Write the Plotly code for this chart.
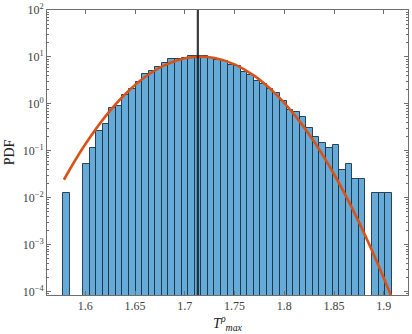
import numpy as np
import plotly.graph_objects as go

# ---------------- data ----------------
bin_start = 1.5779          # left edge of first histogram bin
bin_width = 0.0066          # histogram bin width
pdf_values = [
    0.0125, None, None, 0.051, 0.114, 0.258, 0.371, 0.813, 0.881, 1.56,
    2.10, 2.92, 4.32, 5.08, 6.09, 7.41, 9.02, 9.02, 9.71, 10.25,
    10.45, 10.25, 9.49, 8.72, 8.02, 6.82, 6.26, 4.68, 4.04, 3.11,
    2.69, 2.07, 1.70, 1.12, 0.723, 0.668, 0.523, 0.305, 0.192, 0.146,
    0.114, 0.130, 0.038, 0.052, 0.0253, 0.0253, None, 0.0127, 0.0127, 0.0127,
]

# fitted normal curve
curve_x = [1.5785, 1.59, 1.60, 1.62, 1.64, 1.66, 1.68, 1.70, 1.715, 1.73,
           1.75, 1.77, 1.79, 1.81, 1.83, 1.85, 1.87, 1.89, 1.905, 1.9082]
curve_pdf = [0.0240, 0.0634, 0.1375, 0.533, 1.602, 3.724, 6.697, 9.324, 10.10, 9.468,
             6.941, 3.940, 1.730, 0.588, 0.1546, 0.03147, 0.004957, 0.000604, 0.0001053, 0.0000712]

mean_T = 1.7131

x_tick_vals = [1.6, 1.65, 1.7, 1.75, 1.8, 1.85, 1.9]
x_tick_text = ["1.6", "1.65", "1.7", "1.75", "1.8", "1.85", "1.9"]
y_tick_vals = [1e-4, 1e-3, 1e-2, 1e-1, 1e0, 1e1, 1e2]
y_tick_text = ["10<sup>−4</sup>", "10<sup>−3</sup>", "10<sup>−2</sup>", "10<sup>−1</sup>",
               "10<sup>0</sup>", "10<sup>1</sup>", "10<sup>2</sup>"]

# ---------------- figure ----------------
centers = [bin_start + (i + 0.5) * bin_width for i in range(len(pdf_values))]

fig = go.Figure()
fig.add_trace(go.Bar(
    x=centers, y=pdf_values, width=bin_width,
    marker=dict(color="#66AAD7", line=dict(color="rgba(25,50,70,0.9)", width=1)),
    showlegend=False,
))
fig.add_trace(go.Scatter(
    x=curve_x, y=curve_pdf, mode="lines",
    line=dict(color="#D95319", width=2.6, shape="spline", smoothing=1.0),
    showlegend=False,
))
fig.add_vline(x=mean_T, line=dict(color="rgba(25,25,25,0.85)", width=2.2), layer="above")

font_family = "Liberation Serif"
axis_color = "rgb(110,110,110)"

fig.update_layout(
    width=412, height=334,
    margin=dict(l=47, r=4.3, t=10.3, b=38.7, autoexpand=False),
    paper_bgcolor="white", plot_bgcolor="white",
    bargap=0,
    font=dict(family=font_family, size=12, color="#404040"),
)
fig.update_xaxes(
    range=[1.5615, 1.9243], automargin=False,
    tickvals=x_tick_vals, ticktext=x_tick_text,
    ticks="inside", ticklen=4, tickcolor=axis_color,
    showline=True, linecolor=axis_color, linewidth=1, mirror="ticks",
    showgrid=False, zeroline=False,
    tickfont=dict(size=12, color="#404040"),
    title=dict(text="<i>T</i><sup><i>ρ</i></sup><sub><i>max</i></sub>", standoff=0,
               font=dict(size=14, color="#202020")),
)
fig.update_yaxes(
    type="log", range=[-4.077, 2], automargin=False,
    tickvals=y_tick_vals, ticktext=y_tick_text,
    ticks="inside", ticklen=4, tickcolor=axis_color,
    minor=dict(ticks="inside", ticklen=2, tickcolor=axis_color, dtick="D1", showgrid=False),
    showline=True, linecolor=axis_color, linewidth=1, mirror="ticks",
    showgrid=False, zeroline=False,
    tickfont=dict(size=12, color="#404040"),
    title=dict(text="PDF", standoff=4, font=dict(size=14, color="#202020")),
)

fig.write_html("out.html", config={"displayModeBar": False},
               post_script="document.body.style.margin='0';")
